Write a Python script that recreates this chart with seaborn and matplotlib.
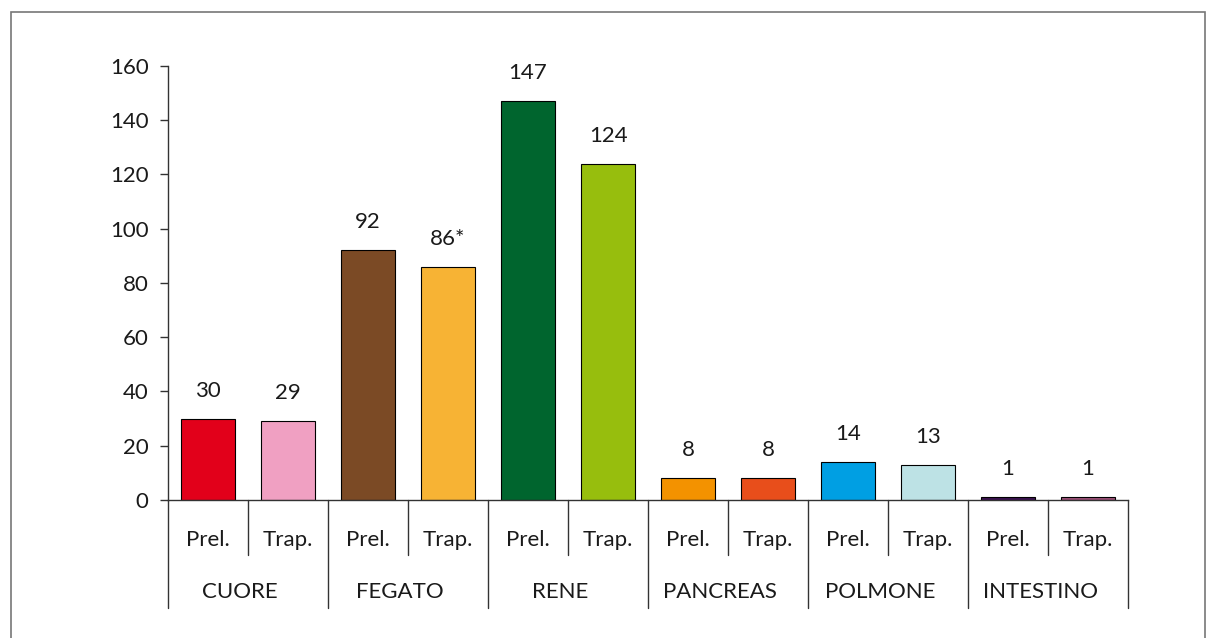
import pandas as pd
import matplotlib
matplotlib.use("Agg")
import matplotlib.pyplot as plt
import matplotlib.transforms as mtransforms
from matplotlib.patches import Rectangle
import seaborn as sns

# Data
organs = ["CUORE", "FEGATO", "RENE", "PANCREAS", "POLMONE", "INTESTINO"]
kinds = ["Prel.", "Trap."]
prel_values = [30, 92, 147, 8, 14, 1]
trap_values = [29, 86, 124, 8, 13, 1]
trap_marks = ["", "*", "", "", "", ""]
colors = ["#E2001A", "#F0A0C2", "#7B4A25", "#F7B334", "#00652E", "#97BE0D",
          "#F39200", "#E84E1B", "#009FE3", "#BDE2E5", "#3D1152", "#A0527A"]

rows = []
for i, org in enumerate(organs):
    rows.append({"slot": f"{org} Prel.", "organ": org, "kind": "Prel.",
                 "value": prel_values[i], "label": str(prel_values[i])})
    rows.append({"slot": f"{org} Trap.", "organ": org, "kind": "Trap.",
                 "value": trap_values[i], "label": f"{trap_values[i]}{trap_marks[i]}"})
df = pd.DataFrame(rows)

sns.set_style("white")
plt.rcParams["font.family"] = ["Lato", "DejaVu Sans"]
FS = 16

fig = plt.figure(figsize=(12.07, 6.38), dpi=100)
ax = fig.add_axes([0.1392, 0.2163, 0.7954, 0.6803])

sns.barplot(data=df, x="slot", y="value", hue="slot", palette=colors,
            saturation=1, width=0.68, edgecolor="black", linewidth=0.8,
            legend=False, ax=ax)

ax.set_ylim(0, 160)
ax.set_xlim(-0.5, len(df) - 0.5)
ax.set_yticks(range(0, 161, 20))
ax.tick_params(axis="y", labelsize=FS, length=6, width=1, color="#333333",
               left=True, pad=8, labelcolor="#1a1a1a")
ax.set_xticks([])
ax.set_xlabel("")
ax.set_ylabel("")
for side in ["top", "right"]:
    ax.spines[side].set_visible(False)
for side in ["left", "bottom"]:
    ax.spines[side].set_color("#333333")
    ax.spines[side].set_linewidth(1)

# value labels
for i, (v, lab) in enumerate(zip(df["value"], df["label"])):
    ax.annotate(lab, (i, v), xytext=(0, 13), textcoords="offset points",
                ha="center", va="bottom", fontsize=FS, color="#1a1a1a")

# two-level category axis
trans = mtransforms.blended_transform_factory(ax.transData, ax.transAxes)
for i in range(len(df) + 1):
    bottom = -0.249 if i % 2 == 0 else -0.127
    ax.plot([i - 0.5, i - 0.5], [0, bottom], color="#333333", lw=1,
            transform=trans, clip_on=False)
for i, kind in enumerate(df["kind"]):
    ax.text(i, -0.092, kind, transform=trans, ha="center", va="center",
            fontsize=FS, color="#1a1a1a")
for g, org in enumerate(organs):
    ax.text(2 * g + 0.4, -0.212, org, transform=trans, ha="center",
            va="center", fontsize=FS, color="#1a1a1a")

# outer frame
fig.patches.append(Rectangle((11 / 1207, -0.05), 1194 / 1207, 1.05 - 12 / 638,
                             transform=fig.transFigure, fill=False,
                             edgecolor="#777777", lw=1.2))

fig.savefig("out.png", dpi=100)
